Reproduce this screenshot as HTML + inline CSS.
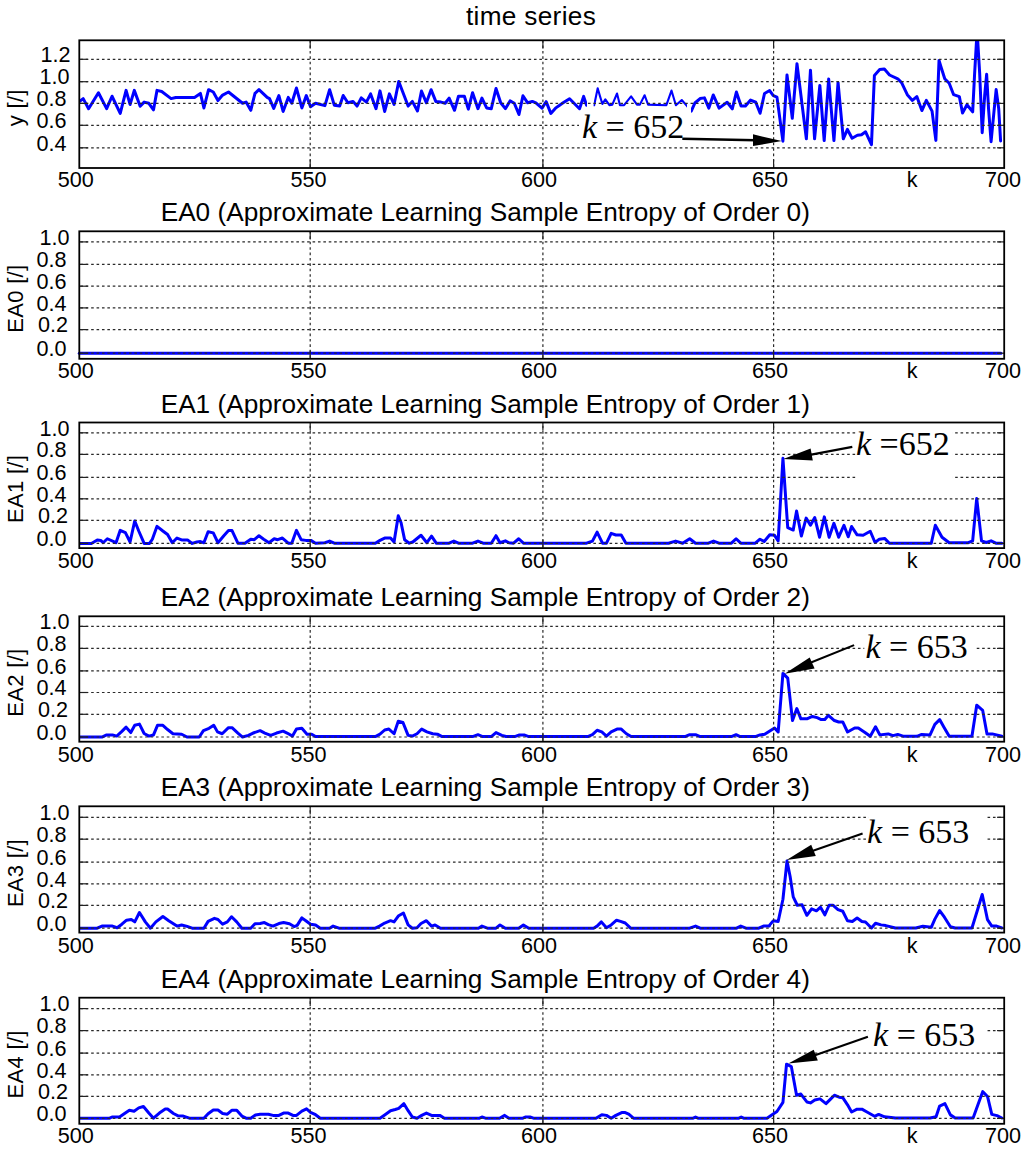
<!DOCTYPE html>
<html><head><meta charset="utf-8"><style>
html,body{margin:0;padding:0;background:#fff;}
svg{display:block;}
.g{stroke:#2a2a2a;stroke-width:1.2;stroke-dasharray:2.6 2.80;fill:none;}
.t{stroke:#222;stroke-width:1.2;fill:none;}
.ax{stroke:#000;stroke-width:1.8;fill:none;}
.d{stroke:#0000ff;stroke-width:3;fill:none;stroke-linejoin:round;stroke-linecap:round;}
text{font-family:'Liberation Sans',sans-serif;fill:#000;}
.yt{font-size:21.6px;}
.xt{font-size:21.6px;text-anchor:middle;}
.yl{font-size:22px;text-anchor:middle;letter-spacing:0.3px;}
.ti{font-size:26.2px;text-anchor:middle;}
.an{font-family:'Liberation Serif',serif;font-size:34px;}
</style></head><body>
<svg width="1024" height="1151" viewBox="0 0 1024 1151">
<defs>
<clipPath id="c0"><rect x="79.3" y="40.3" width="924.9" height="127.7"/></clipPath>
<clipPath id="c1"><rect x="79.3" y="231.3" width="924.9" height="127.5"/></clipPath>
<clipPath id="c2"><rect x="79.3" y="422.5" width="924.9" height="125.6"/></clipPath>
<clipPath id="c3"><rect x="79.3" y="616.3" width="924.9" height="125.4"/></clipPath>
<clipPath id="c4"><rect x="79.3" y="806.3" width="924.9" height="126.3"/></clipPath>
<clipPath id="c5"><rect x="79.3" y="997.7" width="924.9" height="126.1"/></clipPath>
<clipPath id="p1a"><rect x="0" y="0" width="587" height="200"/><rect x="691" y="0" width="400" height="200"/></clipPath>
<clipPath id="p1b"><rect x="593.6" y="0" width="93.4" height="200"/></clipPath>
</defs>
<g clip-path="url(#c0)"><polyline class="d" clip-path="url(#p1a)" points="79.69,101.4 83.2,98.59 88.59,108.67 98.44,92.73 106.64,108.67 112.03,96.25 120.23,113.35 126.09,90.39 130.07,104.45 134.29,90.39 140.15,106.32 144.14,102.1 148.82,103.28 153.51,109.84 157.02,90.39 161.71,91.56 171.09,98.59 175.77,97.42 194.52,97.42 200.38,93.43 203.9,107.96 208.58,89.68 213.27,92.03 217.96,100.46 222.64,95.07 228.5,92.03 242.57,103.28 246.08,102.1 250.77,110.31 254.99,93.43 258.97,89.68 267.17,97.42 269.52,98.59 273.73,108.43 278.89,95.54 283.11,111.48 288.26,97.42 291.78,103.28 296.47,88.04 301.86,107.96 306.31,95.54 310.53,106.79 315.55,103.28 324.92,105.62 329.61,89.68 334.29,105.15 339.68,106.09 343.2,95.54 347.89,102.81 353.04,101.4 357.03,106.09 361.25,97.89 366.4,102.1 370.62,93.9 376.01,108.67 379.99,90.86 384.68,111.48 389.37,93.9 394.06,104.45 398.74,81.48 408.12,106.09 412.34,101.4 417.49,111.01 421.48,91.09 426.4,102.81 431.08,89.68 435.77,101.4 440.93,102.1 445.15,103.28 449.13,98.12 454.52,110.31 458.5,96.25 464.36,96.25 468.35,109.14 472.57,92.73 477.96,108.67 481.94,98.12 486.63,107.96 491.31,108.67 496,88.51 500.69,102.81 505.37,108.67 510.06,100.93 514.28,103.28 518.97,114.53 522.95,95.78 527.64,102.81 532.33,101.4 535.84,102.81 541.7,107.96 542.03,108.13 546.13,101.68 550.82,113.4 555.51,108.13 559.61,105.2 563.13,102.85 569.57,98.75 579.53,108.71 583.63,96.41 586.56,105.2 594.18,105.2 597.7,88.2 600.04,96.41 602.39,104.02 605.32,99.34 609.42,105.2 612.35,104.61 617.03,93.48 619.96,105.2 624.07,105.2 631.1,96.41 636.96,104.61 639.89,104.61 644.57,95.23 648.09,104.61 666.37,105.18 671.49,90.53 675.89,105.18 681.75,100.06 686.87,105.91 691.27,111.04 694.93,102.99 700.06,98.59 704.45,97.86 708.84,108.11 713.24,94.93 719.1,108.11 727.15,102.25 732.28,108.84 736.38,92 741.07,105.91 745.46,105.91 750.59,100.06 755.72,102.25 760.11,113.24 764.51,93.46 769.63,90.53 773.29,95.66 776.96,97.13 782.9,141.16 787.01,74.88 792.29,118.28 796.98,63.74 806.36,138.81 810.47,70.19 814.57,138.81 819.85,85.44 824.19,140.57 828.65,78.99 833.93,140.57 838.04,82.51 843.31,138.81 847.42,129.43 852.11,138.23 857.39,135.29 861.5,134.71 865.6,131.77 871.47,144.68 874.4,75.47 879.68,69.6 884.37,69.02 889.52,74.99 897.77,78.8 901.58,82.61 907.29,94.67 912.37,100.38 916.82,96.57 921.89,110.54 926.34,100.38 932.05,111.17 935.86,140.37 939.03,60.39 940.94,66.74 944.75,78.8 949.19,83.24 953.63,94.67 959.34,96.57 962.52,113.08 966.96,104.82 972.67,111.81 974.58,74.36 976.48,41.35 977.75,41.35 979.66,73.09 982.2,132.75 984.74,94.67 986.64,74.36 988.54,108.63 991.08,141.64 994.26,108.63 996.16,89.59 998.7,108.63 1000.6,141"/><polyline class="d" style="stroke-width:2.1" clip-path="url(#p1b)" points="79.69,101.4 83.2,98.59 88.59,108.67 98.44,92.73 106.64,108.67 112.03,96.25 120.23,113.35 126.09,90.39 130.07,104.45 134.29,90.39 140.15,106.32 144.14,102.1 148.82,103.28 153.51,109.84 157.02,90.39 161.71,91.56 171.09,98.59 175.77,97.42 194.52,97.42 200.38,93.43 203.9,107.96 208.58,89.68 213.27,92.03 217.96,100.46 222.64,95.07 228.5,92.03 242.57,103.28 246.08,102.1 250.77,110.31 254.99,93.43 258.97,89.68 267.17,97.42 269.52,98.59 273.73,108.43 278.89,95.54 283.11,111.48 288.26,97.42 291.78,103.28 296.47,88.04 301.86,107.96 306.31,95.54 310.53,106.79 315.55,103.28 324.92,105.62 329.61,89.68 334.29,105.15 339.68,106.09 343.2,95.54 347.89,102.81 353.04,101.4 357.03,106.09 361.25,97.89 366.4,102.1 370.62,93.9 376.01,108.67 379.99,90.86 384.68,111.48 389.37,93.9 394.06,104.45 398.74,81.48 408.12,106.09 412.34,101.4 417.49,111.01 421.48,91.09 426.4,102.81 431.08,89.68 435.77,101.4 440.93,102.1 445.15,103.28 449.13,98.12 454.52,110.31 458.5,96.25 464.36,96.25 468.35,109.14 472.57,92.73 477.96,108.67 481.94,98.12 486.63,107.96 491.31,108.67 496,88.51 500.69,102.81 505.37,108.67 510.06,100.93 514.28,103.28 518.97,114.53 522.95,95.78 527.64,102.81 532.33,101.4 535.84,102.81 541.7,107.96 542.03,108.13 546.13,101.68 550.82,113.4 555.51,108.13 559.61,105.2 563.13,102.85 569.57,98.75 579.53,108.71 583.63,96.41 586.56,105.2 594.18,105.2 597.7,88.2 600.04,96.41 602.39,104.02 605.32,99.34 609.42,105.2 612.35,104.61 617.03,93.48 619.96,105.2 624.07,105.2 631.1,96.41 636.96,104.61 639.89,104.61 644.57,95.23 648.09,104.61 666.37,105.18 671.49,90.53 675.89,105.18 681.75,100.06 686.87,105.91 691.27,111.04 694.93,102.99 700.06,98.59 704.45,97.86 708.84,108.11 713.24,94.93 719.1,108.11 727.15,102.25 732.28,108.84 736.38,92 741.07,105.91 745.46,105.91 750.59,100.06 755.72,102.25 760.11,113.24 764.51,93.46 769.63,90.53 773.29,95.66 776.96,97.13 782.9,141.16 787.01,74.88 792.29,118.28 796.98,63.74 806.36,138.81 810.47,70.19 814.57,138.81 819.85,85.44 824.19,140.57 828.65,78.99 833.93,140.57 838.04,82.51 843.31,138.81 847.42,129.43 852.11,138.23 857.39,135.29 861.5,134.71 865.6,131.77 871.47,144.68 874.4,75.47 879.68,69.6 884.37,69.02 889.52,74.99 897.77,78.8 901.58,82.61 907.29,94.67 912.37,100.38 916.82,96.57 921.89,110.54 926.34,100.38 932.05,111.17 935.86,140.37 939.03,60.39 940.94,66.74 944.75,78.8 949.19,83.24 953.63,94.67 959.34,96.57 962.52,113.08 966.96,104.82 972.67,111.81 974.58,74.36 976.48,41.35 977.75,41.35 979.66,73.09 982.2,132.75 984.74,94.67 986.64,74.36 988.54,108.63 991.08,141.64 994.26,108.63 996.16,89.59 998.7,108.63 1000.6,141"/></g>
<line x1="79.3" y1="353.2" x2="1001" y2="353.2" class="d"/>
<g clip-path="url(#c2)"><polyline class="d" points="79.69,543.43 91.4,543.43 97.26,539.92 100.78,540.39 103.12,542.73 107.34,538.75 116.01,542.73 120.23,530.31 125.39,532.65 130.07,542.03 134.76,520.94 138.75,531.01 144.14,543.43 149.53,543.43 152.34,539.21 157.02,526.33 162.88,531.01 167.57,534.53 172.26,542.73 176.95,538.04 181.63,539.92 187.49,539.92 192.18,543.43 196.87,542.03 200.38,541.56 203.9,542.73 208.11,531.72 213.27,532.89 217.96,542.73 223.82,535.7 228.5,530.54 232.02,530.54 237.88,543.2 244.91,543.2 250.77,539.21 254.28,539.68 258.97,535.7 263.66,539.21 269.05,542.73 274.2,538.75 277.72,539.68 282.41,538.04 288.26,543.2 291.78,543.2 296.47,530.31 301.15,539.68 305.84,540.39 310.53,540.39 310.86,540.39 315.55,543.2 324.92,542.73 329.61,541.09 334.29,543.2 375.31,543.2 379.99,540.39 384.68,538.04 390.54,538.04 394.06,542.03 398.27,515.78 401.09,522.81 404.6,539.68 409.29,543.2 412.8,542.03 421.01,535.23 426.87,542.73 431.55,536.17 436.24,543.2 449.13,543.2 453.82,541.09 458.5,543.2 472.57,543.2 477.96,541.09 483.11,543.2 491.31,543.2 496,535.7 499.98,542.73 505.37,540.86 508.89,542.73 513.58,543.2 518.73,538.75 523.42,543.2 539.36,543.2 539.69,543.2 586.56,543.2 592.42,541.09 597.1,532.18 602.49,543.2 606.48,543.2 611.17,533.36 615.85,535 621.24,535 625.93,543.2 668.58,543.2 675.61,541.09 682.64,543.2 689.68,538.75 695.53,543.2 708.42,543.2 713.58,541.09 718.97,543.2 731.39,543.2 736.08,538.75 740.77,543.2 755.3,543.2 759.98,539.21 764.2,541.56 769.78,534.83 774.57,535.31 778.16,540.81 782.94,458.28 787.73,527.66 793.23,530.05 796.58,510.91 801.36,536.03 806.15,518.09 810.45,525.26 814.76,517.61 819.55,537.22 824.33,516.89 829.11,537.22 833.9,523.35 838.68,537.22 843.95,525.26 848.25,536.75 851.6,526.46 857.11,534.83 863.09,535.31 870.26,531.24 875.05,542.49 879.35,539.14 884.62,538.42 889.4,543.21 931.27,543.21 935.33,525.26 942.03,537.22 949.21,542.73 968.35,542.73 972.66,540.81 976.72,498.47 981.51,540.81 986.29,542.49 991.08,540.81 995.86,543.21 1001.84,543.21"/></g>
<g clip-path="url(#c3)"><polyline class="d" points="79.69,737.03 101.95,737.03 106.64,734.92 112.5,734.92 116.72,736.09 121.87,731.4 126.09,727.18 130.78,732.57 134.76,725.31 139.45,724.14 144.14,733.51 148.82,736.09 153.51,734.92 157.49,725.31 162.88,725.31 167.57,729.53 172.96,733.75 181.63,734.21 187.02,737.03 199.21,737.03 203.43,730.7 209.05,728.36 213.74,725.31 217.49,731.87 222.18,733.75 228.5,727.65 232.02,727.65 237.88,733.04 242.57,737.03 248.42,735.39 253.11,733.04 260.14,730.7 264.83,733.04 270.69,735.39 276.55,733.04 283.11,731.17 287.09,733.04 292.48,736.09 296.47,729.06 301.86,728.36 307.01,734.21 311.7,734.21 315.55,736.56 375.31,736.56 379.99,734.21 384.68,730 388.9,729.06 394.06,733.75 398.27,721.33 402.96,722.5 408.12,735.39 412.34,736.09 417.02,733.75 421.71,729.06 426.87,731.87 432.72,733.75 437.41,734.21 442.1,736.56 472.57,736.56 477.96,734.68 482.64,736.56 491.31,736.56 496,732.57 501.86,735.39 506.08,736.56 514.75,736.56 519.44,734.92 524.12,734.92 528.81,736.56 539.36,736.56 539.69,736.56 587.73,736.56 592.42,734.68 597.1,730.23 601.79,731.87 606.48,736.09 611.17,731.87 617.02,729.06 621.24,729.06 626.4,733.75 631.09,736.56 684.99,736.56 689.68,734.68 695.53,734.68 700.22,736.56 731.39,736.56 736.08,734.68 740.06,736.56 755.3,736.56 759.98,734.92 764.67,734.21 774.57,727.94 778.16,732.01 782.94,673.4 787.73,678.18 792.51,720.53 796.82,708.56 800.89,718.85 806.87,718.85 812.37,716.46 817.15,717.66 821.22,719.57 824.81,719.57 828.4,715.26 834.38,720.53 838.68,721.96 842.75,721.96 847.54,732.01 854.71,727.94 858.3,727.94 865,732.49 870.26,736.32 875.53,726.75 879.83,734.88 888.21,733.92 892.99,735.6 897.78,734.4 903.76,736.32 916.91,736.32 921.7,734.4 930.07,734.88 934.86,724.35 939.64,719.57 943.95,727.22 949.21,736.32 971.94,736.32 976.72,705.22 982.7,710.48 987.01,733.92 992.27,733.92 1001.84,736.32"/></g>
<g clip-path="url(#c4)"><polyline class="d" points="79.69,928.2 97.26,928.2 101.95,926.09 112.5,926.09 117.18,927.73 121.87,924.21 126.56,920.23 131.25,919.53 134.76,921.87 139.45,912.5 145.31,921.87 150.46,928.2 155.85,921.87 162.88,916.48 168.74,920.7 176.95,926.09 181.63,924.92 186.32,926.09 192.18,928.2 203.9,928.2 208.11,921.4 214.44,918.36 217.96,919.53 222.64,924.21 227.33,921.87 231.55,916.72 236.71,921.87 241.86,928.2 250.77,928.2 254.99,923.75 260.14,923.51 264.36,922.57 268.34,924.68 273.03,926.09 278.89,923.51 283.58,922.57 289.44,923.75 294.12,926.56 297.17,925.39 301.86,917.89 305.84,920.7 310.53,924.21 315.55,924.92 320.23,928.2 329.61,928.2 333.12,926.09 338.98,928.2 375.31,928.2 379.53,926.09 384.68,923.04 390.54,920.7 394.06,921.87 398.27,916.01 403.43,912.97 408.12,924.92 412.34,928.2 417.02,927.73 421.01,923.51 426.4,920.7 431.55,926.09 435.07,924.92 440.46,928.2 478.42,928.2 481.94,926.09 487.33,928.2 496,928.2 499.98,924.92 505.37,928.2 518.73,928.2 523.42,924.92 528.81,928.2 539.36,928.2 539.69,928.2 593.59,928.2 597.1,926.09 601.32,921.87 606.48,927.73 611.17,924.92 616.56,920.23 620.54,921.4 625.23,923.04 630.62,928.2 689.68,928.2 695.53,926.09 700.22,928.2 736.55,928.2 740.77,926.09 745.92,928.2 758.81,928.2 763.5,926.09 769.36,926.09 769.78,924.88 773.37,920.81 778.16,921.53 782.94,899.28 787.01,861 790.12,876.56 793.23,896.89 797.3,905.26 802.08,904.78 806.87,915.31 811.65,908.85 816.44,910.77 820.5,907.18 824.81,914.83 829.11,905.26 833.18,905.26 837.97,909.57 842.75,911.24 847.54,920.81 852.32,921.53 857.11,917.94 861.89,921.53 865.48,922.01 871.46,927.99 875.53,923.21 881.03,924.88 885.81,925.6 895.38,927.99 915.72,927.99 922.89,926.32 931.27,927.27 934.86,919.14 939.64,910.53 944.43,917.22 950.41,926.79 955.19,927.99 971.94,927.99 976.72,912.44 982.22,894.5 987.49,919.62 991.79,926.08 996.58,926.08 1001.84,927.99"/></g>
<g clip-path="url(#c5)"><polyline class="d" points="79.69,1118.2 109.68,1118.2 112.03,1117.03 119.53,1117.03 124.21,1113.75 129.37,1110.23 134.06,1111.17 138.75,1107.89 143.43,1106.48 148.82,1113.04 153.51,1118.2 159.37,1113.04 165.23,1109.06 167.57,1109.06 173.43,1113.51 178.12,1115.86 183.27,1116.09 189.37,1118.2 203.9,1118.2 208.11,1113.75 213.27,1110 217.96,1110 222.64,1113.51 227.33,1114.21 232.02,1110.23 236.71,1110.23 241.86,1116.09 246.08,1118.2 250.77,1118.2 255.45,1114.92 260.14,1114.21 268.34,1114.21 273.03,1115.39 278.89,1115.39 283.58,1113.04 288.26,1113.04 292.95,1115.39 296.47,1115.39 301.86,1111.17 306.54,1108.82 310.53,1112.34 315.55,1114.68 320.23,1118.2 379.99,1118.2 384.68,1114.92 390.54,1110.7 395.23,1109.53 398.74,1108.36 403.9,1103.67 408.12,1110.7 412.34,1117.03 417.02,1118.2 421.71,1115.39 426.4,1113.04 431.55,1115.39 439.76,1115.39 444.44,1118.2 479.6,1118.2 481.94,1117.03 485.45,1118.2 499.52,1118.2 504.67,1115.39 508.89,1118.2 522.95,1118.2 525.3,1117.03 529.98,1117.03 533.5,1118.2 539.36,1118.2 539.69,1118.2 595.93,1118.2 601.79,1114.68 606.48,1115.39 611.17,1118.2 615.85,1115.39 621.71,1112.57 625.23,1112.57 628.74,1114.21 633.43,1118.2 693.19,1118.2 695.53,1117.03 697.88,1118.2 738.89,1118.2 741.23,1117.03 743.58,1118.2 767.01,1118.2 770.98,1115.6 776.96,1111.53 782.94,1102.44 786.53,1064.16 791.32,1066.56 796.58,1095.26 800.89,1094.07 806.87,1101.96 810.45,1102.92 814.76,1100.05 820.02,1098.85 826,1103.64 830.79,1098.85 834.38,1095.26 839.16,1097.18 842.75,1097.66 847.54,1104.83 851.6,1112.01 857.11,1109.14 861.89,1109.14 867.87,1112.49 874.57,1116.32 878.64,1114.4 884.62,1116.79 895.38,1117.99 930.07,1117.99 936.05,1116.79 939.64,1106.03 944.9,1103.64 950.41,1114.88 955.19,1117.99 973.13,1117.99 977.92,1104.83 982.7,1091.67 987.49,1096.46 991.79,1114.4 997.06,1115.6 1001.84,1117.99"/></g>
<line x1="79.3" y1="59.3" x2="1004.2" y2="59.3" class="g" stroke-dashoffset="4.35"/>
<line x1="79.3" y1="59.3" x2="87.9" y2="59.3" class="t"/>
<line x1="997" y1="59.3" x2="1004.2" y2="59.3" class="t"/>
<line x1="79.3" y1="81.7" x2="1004.2" y2="81.7" class="g" stroke-dashoffset="4.35"/>
<line x1="79.3" y1="81.7" x2="87.9" y2="81.7" class="t"/>
<line x1="997" y1="81.7" x2="1004.2" y2="81.7" class="t"/>
<line x1="79.3" y1="103.4" x2="1004.2" y2="103.4" class="g" stroke-dashoffset="4.35"/>
<line x1="79.3" y1="103.4" x2="87.9" y2="103.4" class="t"/>
<line x1="997" y1="103.4" x2="1004.2" y2="103.4" class="t"/>
<line x1="79.3" y1="125.3" x2="1004.2" y2="125.3" class="g" stroke-dashoffset="4.35"/>
<line x1="79.3" y1="125.3" x2="87.9" y2="125.3" class="t"/>
<line x1="997" y1="125.3" x2="1004.2" y2="125.3" class="t"/>
<line x1="79.3" y1="147.8" x2="1004.2" y2="147.8" class="g" stroke-dashoffset="4.35"/>
<line x1="79.3" y1="147.8" x2="87.9" y2="147.8" class="t"/>
<line x1="997" y1="147.8" x2="1004.2" y2="147.8" class="t"/>
<line x1="310.2" y1="168" x2="310.2" y2="40.3" class="g" stroke-dashoffset="4.35"/>
<line x1="310.2" y1="168" x2="310.2" y2="159.7" class="t"/>
<line x1="310.2" y1="40.3" x2="310.2" y2="48.6" class="t"/>
<line x1="542.9" y1="168" x2="542.9" y2="40.3" class="g" stroke-dashoffset="4.35"/>
<line x1="542.9" y1="168" x2="542.9" y2="159.7" class="t"/>
<line x1="542.9" y1="40.3" x2="542.9" y2="48.6" class="t"/>
<line x1="773.6" y1="168" x2="773.6" y2="40.3" class="g" stroke-dashoffset="4.35"/>
<line x1="773.6" y1="168" x2="773.6" y2="159.7" class="t"/>
<line x1="773.6" y1="40.3" x2="773.6" y2="48.6" class="t"/>
<text x="40.5" y="62" class="yt">1.2</text>
<text x="39.6" y="84.4" class="yt">1.0</text>
<text x="36.5" y="106.1" class="yt">0.8</text>
<text x="36.5" y="128" class="yt">0.6</text>
<text x="36.5" y="150.5" class="yt">0.4</text>
<text x="75.8" y="186.6" class="xt">500</text>
<text x="308.5" y="186.6" class="xt">550</text>
<text x="539.1" y="186.6" class="xt">600</text>
<text x="770" y="186.6" class="xt">650</text>
<text x="912.2" y="186.6" class="xt">k</text>
<text x="1002.9" y="186.6" class="xt">700</text>
<text x="0" y="0" class="yl" transform="translate(22.6,107.75) rotate(-90)">y [/]</text>
<text x="531" y="24.9" class="ti" style="letter-spacing:0.33px">time series</text>
<line x1="79.3" y1="241.9" x2="1004.2" y2="241.9" class="g" stroke-dashoffset="4.35"/>
<line x1="79.3" y1="241.9" x2="87.9" y2="241.9" class="t"/>
<line x1="997" y1="241.9" x2="1004.2" y2="241.9" class="t"/>
<line x1="79.3" y1="264.4" x2="1004.2" y2="264.4" class="g" stroke-dashoffset="4.35"/>
<line x1="79.3" y1="264.4" x2="87.9" y2="264.4" class="t"/>
<line x1="997" y1="264.4" x2="1004.2" y2="264.4" class="t"/>
<line x1="79.3" y1="286.2" x2="1004.2" y2="286.2" class="g" stroke-dashoffset="4.35"/>
<line x1="79.3" y1="286.2" x2="87.9" y2="286.2" class="t"/>
<line x1="997" y1="286.2" x2="1004.2" y2="286.2" class="t"/>
<line x1="79.3" y1="307.9" x2="1004.2" y2="307.9" class="g" stroke-dashoffset="4.35"/>
<line x1="79.3" y1="307.9" x2="87.9" y2="307.9" class="t"/>
<line x1="997" y1="307.9" x2="1004.2" y2="307.9" class="t"/>
<line x1="79.3" y1="329.6" x2="1004.2" y2="329.6" class="g" stroke-dashoffset="4.35"/>
<line x1="79.3" y1="329.6" x2="87.9" y2="329.6" class="t"/>
<line x1="997" y1="329.6" x2="1004.2" y2="329.6" class="t"/>
<line x1="79.3" y1="353.2" x2="1004.2" y2="353.2" class="g" stroke-dashoffset="4.35"/>
<line x1="79.3" y1="353.2" x2="87.9" y2="353.2" class="t"/>
<line x1="997" y1="353.2" x2="1004.2" y2="353.2" class="t"/>
<line x1="310.2" y1="358.8" x2="310.2" y2="231.3" class="g" stroke-dashoffset="4.35"/>
<line x1="310.2" y1="358.8" x2="310.2" y2="350.5" class="t"/>
<line x1="310.2" y1="231.3" x2="310.2" y2="239.6" class="t"/>
<line x1="542.9" y1="358.8" x2="542.9" y2="231.3" class="g" stroke-dashoffset="4.35"/>
<line x1="542.9" y1="358.8" x2="542.9" y2="350.5" class="t"/>
<line x1="542.9" y1="231.3" x2="542.9" y2="239.6" class="t"/>
<line x1="773.6" y1="358.8" x2="773.6" y2="231.3" class="g" stroke-dashoffset="4.35"/>
<line x1="773.6" y1="358.8" x2="773.6" y2="350.5" class="t"/>
<line x1="773.6" y1="231.3" x2="773.6" y2="239.6" class="t"/>
<text x="39.6" y="244.6" class="yt">1.0</text>
<text x="36.5" y="267.1" class="yt">0.8</text>
<text x="36.5" y="288.9" class="yt">0.6</text>
<text x="36.5" y="310.6" class="yt">0.4</text>
<text x="38" y="332.3" class="yt">0.2</text>
<text x="36.5" y="355.9" class="yt">0.0</text>
<text x="75.8" y="378" class="xt">500</text>
<text x="308.5" y="378" class="xt">550</text>
<text x="539.1" y="378" class="xt">600</text>
<text x="770" y="378" class="xt">650</text>
<text x="912.2" y="378" class="xt">k</text>
<text x="1002.9" y="378" class="xt">700</text>
<text x="0" y="0" class="yl" transform="translate(22.6,298.65) rotate(-90)">EA0 [/]</text>
<text x="485.3" y="221.4" class="ti">EA0 (Approximate Learning Sample Entropy of Order 0)</text>
<line x1="79.3" y1="432.8" x2="1004.2" y2="432.8" class="g" stroke-dashoffset="4.35"/>
<line x1="79.3" y1="432.8" x2="87.9" y2="432.8" class="t"/>
<line x1="997" y1="432.8" x2="1004.2" y2="432.8" class="t"/>
<line x1="79.3" y1="454.4" x2="1004.2" y2="454.4" class="g" stroke-dashoffset="4.35"/>
<line x1="79.3" y1="454.4" x2="87.9" y2="454.4" class="t"/>
<line x1="997" y1="454.4" x2="1004.2" y2="454.4" class="t"/>
<line x1="79.3" y1="477.4" x2="1004.2" y2="477.4" class="g" stroke-dashoffset="4.35"/>
<line x1="79.3" y1="477.4" x2="87.9" y2="477.4" class="t"/>
<line x1="997" y1="477.4" x2="1004.2" y2="477.4" class="t"/>
<line x1="79.3" y1="498.8" x2="1004.2" y2="498.8" class="g" stroke-dashoffset="4.35"/>
<line x1="79.3" y1="498.8" x2="87.9" y2="498.8" class="t"/>
<line x1="997" y1="498.8" x2="1004.2" y2="498.8" class="t"/>
<line x1="79.3" y1="520.3" x2="1004.2" y2="520.3" class="g" stroke-dashoffset="4.35"/>
<line x1="79.3" y1="520.3" x2="87.9" y2="520.3" class="t"/>
<line x1="997" y1="520.3" x2="1004.2" y2="520.3" class="t"/>
<line x1="79.3" y1="543.4" x2="1004.2" y2="543.4" class="g" stroke-dashoffset="4.35"/>
<line x1="79.3" y1="543.4" x2="87.9" y2="543.4" class="t"/>
<line x1="997" y1="543.4" x2="1004.2" y2="543.4" class="t"/>
<line x1="310.2" y1="548.1" x2="310.2" y2="422.5" class="g" stroke-dashoffset="4.35"/>
<line x1="310.2" y1="548.1" x2="310.2" y2="539.8" class="t"/>
<line x1="310.2" y1="422.5" x2="310.2" y2="430.8" class="t"/>
<line x1="542.9" y1="548.1" x2="542.9" y2="422.5" class="g" stroke-dashoffset="4.35"/>
<line x1="542.9" y1="548.1" x2="542.9" y2="539.8" class="t"/>
<line x1="542.9" y1="422.5" x2="542.9" y2="430.8" class="t"/>
<line x1="773.6" y1="548.1" x2="773.6" y2="422.5" class="g" stroke-dashoffset="4.35"/>
<line x1="773.6" y1="548.1" x2="773.6" y2="539.8" class="t"/>
<line x1="773.6" y1="422.5" x2="773.6" y2="430.8" class="t"/>
<text x="39.6" y="435.5" class="yt">1.0</text>
<text x="36.5" y="457.1" class="yt">0.8</text>
<text x="36.5" y="480.1" class="yt">0.6</text>
<text x="36.5" y="501.5" class="yt">0.4</text>
<text x="38" y="523" class="yt">0.2</text>
<text x="36.5" y="546.1" class="yt">0.0</text>
<text x="75.8" y="568.3" class="xt">500</text>
<text x="308.5" y="568.3" class="xt">550</text>
<text x="539.1" y="568.3" class="xt">600</text>
<text x="770" y="568.3" class="xt">650</text>
<text x="912.2" y="568.3" class="xt">k</text>
<text x="1002.9" y="568.3" class="xt">700</text>
<text x="0" y="0" class="yl" transform="translate(22.6,488.9) rotate(-90)">EA1 [/]</text>
<text x="485.3" y="412.5" class="ti">EA1 (Approximate Learning Sample Entropy of Order 1)</text>
<line x1="79.3" y1="626.4" x2="1004.2" y2="626.4" class="g" stroke-dashoffset="4.35"/>
<line x1="79.3" y1="626.4" x2="87.9" y2="626.4" class="t"/>
<line x1="997" y1="626.4" x2="1004.2" y2="626.4" class="t"/>
<line x1="79.3" y1="648.4" x2="1004.2" y2="648.4" class="g" stroke-dashoffset="4.35"/>
<line x1="79.3" y1="648.4" x2="87.9" y2="648.4" class="t"/>
<line x1="997" y1="648.4" x2="1004.2" y2="648.4" class="t"/>
<line x1="79.3" y1="670.9" x2="1004.2" y2="670.9" class="g" stroke-dashoffset="4.35"/>
<line x1="79.3" y1="670.9" x2="87.9" y2="670.9" class="t"/>
<line x1="997" y1="670.9" x2="1004.2" y2="670.9" class="t"/>
<line x1="79.3" y1="692.5" x2="1004.2" y2="692.5" class="g" stroke-dashoffset="4.35"/>
<line x1="79.3" y1="692.5" x2="87.9" y2="692.5" class="t"/>
<line x1="997" y1="692.5" x2="1004.2" y2="692.5" class="t"/>
<line x1="79.3" y1="714.3" x2="1004.2" y2="714.3" class="g" stroke-dashoffset="4.35"/>
<line x1="79.3" y1="714.3" x2="87.9" y2="714.3" class="t"/>
<line x1="997" y1="714.3" x2="1004.2" y2="714.3" class="t"/>
<line x1="79.3" y1="737" x2="1004.2" y2="737" class="g" stroke-dashoffset="4.35"/>
<line x1="79.3" y1="737" x2="87.9" y2="737" class="t"/>
<line x1="997" y1="737" x2="1004.2" y2="737" class="t"/>
<line x1="310.2" y1="741.7" x2="310.2" y2="616.3" class="g" stroke-dashoffset="4.35"/>
<line x1="310.2" y1="741.7" x2="310.2" y2="733.4" class="t"/>
<line x1="310.2" y1="616.3" x2="310.2" y2="624.6" class="t"/>
<line x1="542.9" y1="741.7" x2="542.9" y2="616.3" class="g" stroke-dashoffset="4.35"/>
<line x1="542.9" y1="741.7" x2="542.9" y2="733.4" class="t"/>
<line x1="542.9" y1="616.3" x2="542.9" y2="624.6" class="t"/>
<line x1="773.6" y1="741.7" x2="773.6" y2="616.3" class="g" stroke-dashoffset="4.35"/>
<line x1="773.6" y1="741.7" x2="773.6" y2="733.4" class="t"/>
<line x1="773.6" y1="616.3" x2="773.6" y2="624.6" class="t"/>
<text x="39.6" y="629.1" class="yt">1.0</text>
<text x="36.5" y="651.1" class="yt">0.8</text>
<text x="36.5" y="673.6" class="yt">0.6</text>
<text x="36.5" y="695.2" class="yt">0.4</text>
<text x="38" y="717" class="yt">0.2</text>
<text x="36.5" y="739.7" class="yt">0.0</text>
<text x="75.8" y="761.9" class="xt">500</text>
<text x="308.5" y="761.9" class="xt">550</text>
<text x="539.1" y="761.9" class="xt">600</text>
<text x="770" y="761.9" class="xt">650</text>
<text x="912.2" y="761.9" class="xt">k</text>
<text x="1002.9" y="761.9" class="xt">700</text>
<text x="0" y="0" class="yl" transform="translate(22.6,682.6) rotate(-90)">EA2 [/]</text>
<text x="485.3" y="606.2" class="ti">EA2 (Approximate Learning Sample Entropy of Order 2)</text>
<line x1="79.3" y1="817.3" x2="1004.2" y2="817.3" class="g" stroke-dashoffset="4.35"/>
<line x1="79.3" y1="817.3" x2="87.9" y2="817.3" class="t"/>
<line x1="997" y1="817.3" x2="1004.2" y2="817.3" class="t"/>
<line x1="79.3" y1="839.2" x2="1004.2" y2="839.2" class="g" stroke-dashoffset="4.35"/>
<line x1="79.3" y1="839.2" x2="87.9" y2="839.2" class="t"/>
<line x1="997" y1="839.2" x2="1004.2" y2="839.2" class="t"/>
<line x1="79.3" y1="862.1" x2="1004.2" y2="862.1" class="g" stroke-dashoffset="4.35"/>
<line x1="79.3" y1="862.1" x2="87.9" y2="862.1" class="t"/>
<line x1="997" y1="862.1" x2="1004.2" y2="862.1" class="t"/>
<line x1="79.3" y1="883.8" x2="1004.2" y2="883.8" class="g" stroke-dashoffset="4.35"/>
<line x1="79.3" y1="883.8" x2="87.9" y2="883.8" class="t"/>
<line x1="997" y1="883.8" x2="1004.2" y2="883.8" class="t"/>
<line x1="79.3" y1="905.4" x2="1004.2" y2="905.4" class="g" stroke-dashoffset="4.35"/>
<line x1="79.3" y1="905.4" x2="87.9" y2="905.4" class="t"/>
<line x1="997" y1="905.4" x2="1004.2" y2="905.4" class="t"/>
<line x1="79.3" y1="928.2" x2="1004.2" y2="928.2" class="g" stroke-dashoffset="4.35"/>
<line x1="79.3" y1="928.2" x2="87.9" y2="928.2" class="t"/>
<line x1="997" y1="928.2" x2="1004.2" y2="928.2" class="t"/>
<line x1="310.2" y1="932.6" x2="310.2" y2="806.3" class="g" stroke-dashoffset="4.35"/>
<line x1="310.2" y1="932.6" x2="310.2" y2="924.3" class="t"/>
<line x1="310.2" y1="806.3" x2="310.2" y2="814.6" class="t"/>
<line x1="542.9" y1="932.6" x2="542.9" y2="806.3" class="g" stroke-dashoffset="4.35"/>
<line x1="542.9" y1="932.6" x2="542.9" y2="924.3" class="t"/>
<line x1="542.9" y1="806.3" x2="542.9" y2="814.6" class="t"/>
<line x1="773.6" y1="932.6" x2="773.6" y2="806.3" class="g" stroke-dashoffset="4.35"/>
<line x1="773.6" y1="932.6" x2="773.6" y2="924.3" class="t"/>
<line x1="773.6" y1="806.3" x2="773.6" y2="814.6" class="t"/>
<text x="39.6" y="820" class="yt">1.0</text>
<text x="36.5" y="841.9" class="yt">0.8</text>
<text x="36.5" y="864.8" class="yt">0.6</text>
<text x="36.5" y="886.5" class="yt">0.4</text>
<text x="38" y="908.1" class="yt">0.2</text>
<text x="36.5" y="930.9" class="yt">0.0</text>
<text x="75.8" y="952.6" class="xt">500</text>
<text x="308.5" y="952.6" class="xt">550</text>
<text x="539.1" y="952.6" class="xt">600</text>
<text x="770" y="952.6" class="xt">650</text>
<text x="912.2" y="952.6" class="xt">k</text>
<text x="1002.9" y="952.6" class="xt">700</text>
<text x="0" y="0" class="yl" transform="translate(22.6,873.05) rotate(-90)">EA3 [/]</text>
<text x="485.3" y="796.2" class="ti">EA3 (Approximate Learning Sample Entropy of Order 3)</text>
<line x1="79.3" y1="1008.6" x2="1004.2" y2="1008.6" class="g" stroke-dashoffset="4.35"/>
<line x1="79.3" y1="1008.6" x2="87.9" y2="1008.6" class="t"/>
<line x1="997" y1="1008.6" x2="1004.2" y2="1008.6" class="t"/>
<line x1="79.3" y1="1030.6" x2="1004.2" y2="1030.6" class="g" stroke-dashoffset="4.35"/>
<line x1="79.3" y1="1030.6" x2="87.9" y2="1030.6" class="t"/>
<line x1="997" y1="1030.6" x2="1004.2" y2="1030.6" class="t"/>
<line x1="79.3" y1="1053.1" x2="1004.2" y2="1053.1" class="g" stroke-dashoffset="4.35"/>
<line x1="79.3" y1="1053.1" x2="87.9" y2="1053.1" class="t"/>
<line x1="997" y1="1053.1" x2="1004.2" y2="1053.1" class="t"/>
<line x1="79.3" y1="1074.8" x2="1004.2" y2="1074.8" class="g" stroke-dashoffset="4.35"/>
<line x1="79.3" y1="1074.8" x2="87.9" y2="1074.8" class="t"/>
<line x1="997" y1="1074.8" x2="1004.2" y2="1074.8" class="t"/>
<line x1="79.3" y1="1096.4" x2="1004.2" y2="1096.4" class="g" stroke-dashoffset="4.35"/>
<line x1="79.3" y1="1096.4" x2="87.9" y2="1096.4" class="t"/>
<line x1="997" y1="1096.4" x2="1004.2" y2="1096.4" class="t"/>
<line x1="79.3" y1="1118.4" x2="1004.2" y2="1118.4" class="g" stroke-dashoffset="4.35"/>
<line x1="79.3" y1="1118.4" x2="87.9" y2="1118.4" class="t"/>
<line x1="997" y1="1118.4" x2="1004.2" y2="1118.4" class="t"/>
<line x1="310.2" y1="1123.8" x2="310.2" y2="997.7" class="g" stroke-dashoffset="4.35"/>
<line x1="310.2" y1="1123.8" x2="310.2" y2="1115.5" class="t"/>
<line x1="310.2" y1="997.7" x2="310.2" y2="1006" class="t"/>
<line x1="542.9" y1="1123.8" x2="542.9" y2="997.7" class="g" stroke-dashoffset="4.35"/>
<line x1="542.9" y1="1123.8" x2="542.9" y2="1115.5" class="t"/>
<line x1="542.9" y1="997.7" x2="542.9" y2="1006" class="t"/>
<line x1="773.6" y1="1123.8" x2="773.6" y2="997.7" class="g" stroke-dashoffset="4.35"/>
<line x1="773.6" y1="1123.8" x2="773.6" y2="1115.5" class="t"/>
<line x1="773.6" y1="997.7" x2="773.6" y2="1006" class="t"/>
<text x="39.6" y="1011.3" class="yt">1.0</text>
<text x="36.5" y="1033.3" class="yt">0.8</text>
<text x="36.5" y="1055.8" class="yt">0.6</text>
<text x="36.5" y="1077.5" class="yt">0.4</text>
<text x="38" y="1099.1" class="yt">0.2</text>
<text x="36.5" y="1121.1" class="yt">0.0</text>
<text x="75.8" y="1143.4" class="xt">500</text>
<text x="308.5" y="1143.4" class="xt">550</text>
<text x="539.1" y="1143.4" class="xt">600</text>
<text x="770" y="1143.4" class="xt">650</text>
<text x="912.2" y="1143.4" class="xt">k</text>
<text x="1002.9" y="1143.4" class="xt">700</text>
<text x="0" y="0" class="yl" transform="translate(22.6,1064.35) rotate(-90)">EA4 [/]</text>
<text x="485.3" y="987.7" class="ti">EA4 (Approximate Learning Sample Entropy of Order 4)</text>
<rect x="579" y="115.5" width="112" height="25" fill="#fff"/>
<text x="582" y="137.8" class="an"><tspan font-style="italic">k</tspan> = 652</text>
<line x1="682.3" y1="138.7" x2="756" y2="140.2" stroke="#000" stroke-width="2.6"/>
<polygon points="781.8,141.1 753,134.3 753,146.1" fill="#000"/>
<rect x="856.6" y="428" width="96.3" height="52" fill="#fff"/>
<text x="856" y="454.9" class="an"><tspan font-style="italic">k</tspan> =652</text>
<line x1="852.3" y1="446.9" x2="806" y2="455.6" stroke="#000" stroke-width="2.1"/>
<polygon points="783.3,458.9 810.6,448.4 812.8,460.4" fill="#000"/>
<rect x="864.3" y="636" width="111" height="24" fill="#fff"/>
<text x="865.5" y="657.8" class="an"><tspan font-style="italic">k</tspan> = 653</text>
<line x1="854.1" y1="645.1" x2="806" y2="664.5" stroke="#000" stroke-width="2.1"/>
<polygon points="784.7,673.7 809.7,657.5 814.6,668.5" fill="#000"/>
<rect x="868.2" y="815" width="117.8" height="30" fill="#fff"/>
<text x="867.1" y="843.1" class="an"><tspan font-style="italic">k</tspan> = 653</text>
<line x1="862.6" y1="833.6" x2="808" y2="852.5" stroke="#000" stroke-width="2.1"/>
<polygon points="786.6,860 811.2,844.8 815.8,856" fill="#000"/>
<rect x="868.9" y="1020" width="117" height="28" fill="#fff"/>
<text x="873.1" y="1046" class="an"><tspan font-style="italic">k</tspan> = 653</text>
<line x1="867.9" y1="1036.7" x2="810" y2="1057" stroke="#000" stroke-width="2.1"/>
<polygon points="788.3,1063.6 813.7,1049.7 817.8,1060.4" fill="#000"/>

<rect x="79.3" y="40.3" width="924.9" height="127.7" class="ax"/>
<rect x="79.3" y="231.3" width="924.9" height="127.5" class="ax"/>
<rect x="79.3" y="422.5" width="924.9" height="125.6" class="ax"/>
<rect x="79.3" y="616.3" width="924.9" height="125.4" class="ax"/>
<rect x="79.3" y="806.3" width="924.9" height="126.3" class="ax"/>
<rect x="79.3" y="997.7" width="924.9" height="126.1" class="ax"/>
</svg>
</body></html>
